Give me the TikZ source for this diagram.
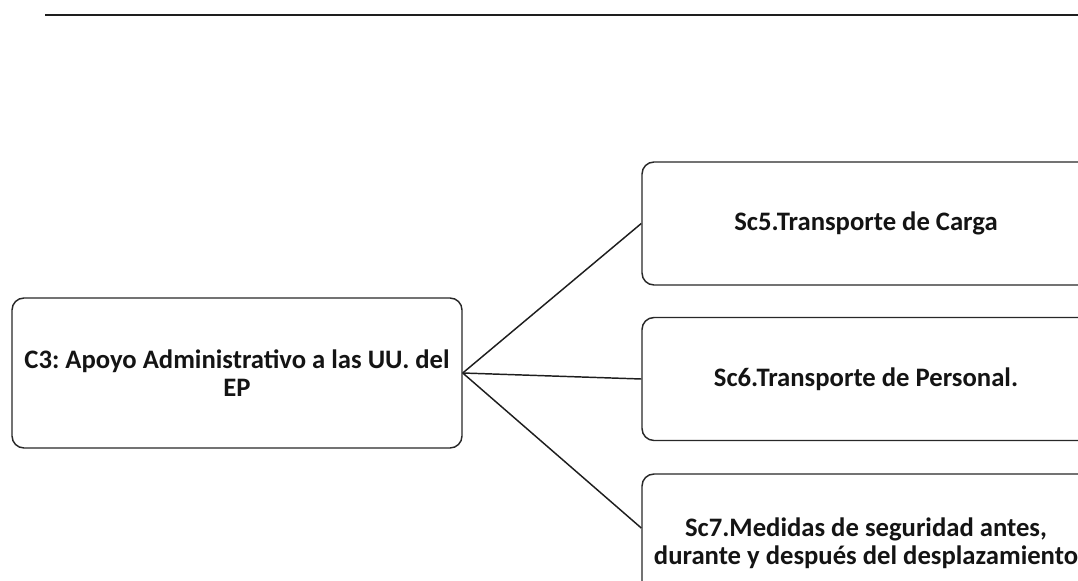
\documentclass[tikz,border=0pt]{standalone}
\usepackage{fontspec}
\setmainfont{Carlito}
\usetikzlibrary{calc}
\tikzset{every picture/.style={line width=0.75pt}}
\tikzset{
  rbox/.style={draw={rgb,255:red,40;green,40;blue,40}, line width=1.1pt, rounded corners=9pt,
    align=center, inner sep=0pt, font=\frenchspacing\bfseries\fontsize{20}{21}\selectfont,
    text={rgb,255:red,20;green,20;blue,20}},
  link/.style={draw={rgb,255:red,30;green,30;blue,30}, line width=1.1pt}
}

\begin{document}
\begin{tikzpicture}[x=0.75pt,y=0.75pt,yscale=-1,xscale=1]
\clip (0,0) rectangle (1078,581);

%Straight Lines (top rule)
\draw [line width=1.5pt, color={rgb,255:red,30;green,30;blue,30}] (45,15) -- (1078,15) ;

% Left box
\node [rbox, minimum width=337.5pt, minimum height=112.5pt] (c3) at (237,373) {C3: Apoyo Administrativo a las UU. del\\EP};
% Right boxes
\node [rbox, minimum width=336pt, minimum height=92.25pt] (sc5) at (866,223.5) {Sc5.Transporte de Carga};
\node [rbox, minimum width=336pt, minimum height=92.25pt] (sc6) at (866,379) {Sc6.Transporte de Personal.};
\node [rbox, minimum width=336pt, minimum height=103.5pt] (sc7) at (866,543) {Sc7.Medidas de seguridad antes,\\durante y después del desplazamiento};

%Straight Lines
\draw [link] (c3.east) -- (sc5.west) ;
\draw [link] (c3.east) -- (sc6.west) ;
\draw [link] (c3.east) -- ($(sc7.west)+(0,-15)$) ;

\end{tikzpicture}
\end{document}
